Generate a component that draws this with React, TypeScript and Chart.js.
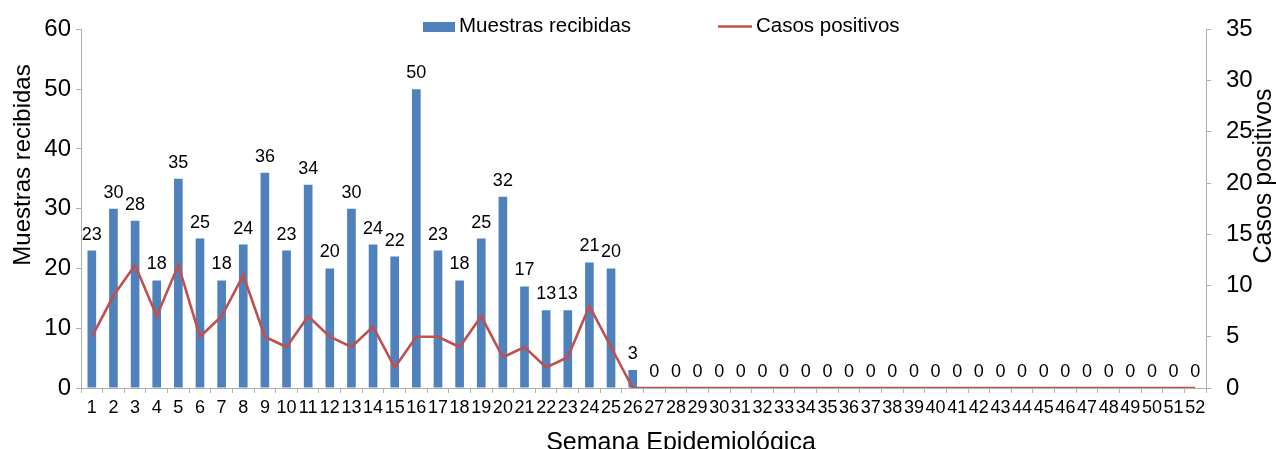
import React, { useEffect, useRef } from "react";
import { Chart, registerables } from "chart.js";

Chart.register(...registerables);

const semanas = [
  "1", "2", "3", "4", "5", "6", "7", "8", "9", "10", "11", "12", "13",
  "14", "15", "16", "17", "18", "19", "20", "21", "22", "23", "24", "25", "26",
  "27", "28", "29", "30", "31", "32", "33", "34", "35", "36", "37", "38", "39",
  "40", "41", "42", "43", "44", "45", "46", "47", "48", "49", "50", "51", "52",
];

const muestrasRecibidas = [
  23, 30, 28, 18, 35, 25, 18, 24, 36, 23, 34, 20, 30,
  24, 22, 50, 23, 18, 25, 32, 17, 13, 13, 21, 20, 3,
  0, 0, 0, 0, 0, 0, 0, 0, 0, 0, 0, 0, 0,
  0, 0, 0, 0, 0, 0, 0, 0, 0, 0, 0, 0, 0,
];

const casosPositivos = [
  5, 9, 12, 7, 12, 5, 7, 11, 5, 4, 7, 5, 4,
  6, 2, 5, 5, 4, 7, 3, 4, 2, 3, 8, 4, 0,
  0, 0, 0, 0, 0, 0, 0, 0, 0, 0, 0, 0, 0,
  0, 0, 0, 0, 0, 0, 0, 0, 0, 0, 0, 0, 0,
];

const leftTitle = "Muestras recibidas";
const rightTitle = "Casos positivos";
const xTitle = "Semana Epidemiológica";

const BLUE = "#4F81BD";
const RED = "#C0504D";
const AXIS = "#b0b0b0";
const FONT = "'Liberation Sans', Arial, sans-serif";

const overlayPlugin = {
  id: "overlay",
  afterDatasetsDraw(chart: any) {
    const ctx = chart.ctx;
    const meta = chart.getDatasetMeta(0);
    ctx.save();
    ctx.fillStyle = "#000";
    ctx.font = `18px ${FONT}`;
    ctx.textAlign = "center";
    ctx.textBaseline = "alphabetic";
    meta.data.forEach((el: any, i: number) => {
      const v = chart.data.datasets[0].data[i];
      ctx.fillText(String(v), el.x, el.y - 11);
    });
    ctx.restore();
  },
  afterDraw(chart: any) {
    const ctx = chart.ctx;
    ctx.save();
    // legend
    ctx.fillStyle = BLUE;
    ctx.fillRect(423, 22, 32, 10);
    ctx.fillStyle = "#000";
    ctx.font = `20.5px ${FONT}`;
    ctx.textAlign = "left";
    ctx.textBaseline = "middle";
    ctx.fillText(chart.data.datasets[0].label, 459, 26);
    ctx.strokeStyle = RED;
    ctx.lineWidth = 2.5;
    ctx.beginPath();
    ctx.moveTo(718, 26.5);
    ctx.lineTo(752, 26.5);
    ctx.stroke();
    ctx.fillText(chart.data.datasets[1].label, 756, 26);

    // axis titles
    ctx.textAlign = "center";
    ctx.textBaseline = "middle";
    ctx.font = `24px ${FONT}`;
    ctx.save();
    ctx.translate(23, 165);
    ctx.rotate(-Math.PI / 2);
    ctx.fillText(leftTitle, 0, 0);
    ctx.restore();

    ctx.font = `25px ${FONT}`;
    ctx.save();
    ctx.translate(1264, 176);
    ctx.rotate(-Math.PI / 2);
    ctx.fillText(rightTitle, 0, 0);
    ctx.restore();

    ctx.fillText(xTitle, 681, 443);
    ctx.restore();
  },
};

export default function App() {
  const ref = useRef<HTMLCanvasElement | null>(null);

  useEffect(() => {
    if (!ref.current) return;
    const chart = new Chart(ref.current, {
      type: "bar",
      data: {
        labels: semanas,
        datasets: [
          {
            type: "bar",
            label: "Muestras recibidas",
            data: muestrasRecibidas,
            backgroundColor: BLUE,
            borderWidth: 0,
            barPercentage: 0.4,
            categoryPercentage: 1,
            yAxisID: "y",
            order: 2,
          },
          {
            type: "line",
            label: "Casos positivos",
            data: casosPositivos,
            borderColor: RED,
            backgroundColor: RED,
            borderWidth: 2.6,
            pointRadius: 0,
            tension: 0,
            yAxisID: "y1",
            order: 1,
          },
        ] as any,
      },
      options: {
        responsive: false,
        animation: false,
        layout: { padding: { top: 23, left: 0, right: 0, bottom: 0 } },
        plugins: {
          legend: { display: false },
          tooltip: { enabled: false },
        },
        scales: {
          x: {
            offset: true,
            grid: {
              offset: true,
              drawOnChartArea: false,
              drawTicks: true,
              tickLength: 5,
              color: AXIS,
            },
            border: { color: AXIS, width: 1 },
            ticks: {
              autoSkip: false,
              maxRotation: 0,
              minRotation: 0,
              padding: 4,
              color: "#000",
              font: { family: FONT, size: 18 },
            },
            afterFit: (s: any) => {
              s.height = 61;
            },
          },
          y: {
            position: "left",
            min: 0,
            max: 60,
            ticks: {
              stepSize: 10,
              padding: 5,
              color: "#000",
              font: { family: FONT, size: 24 },
            },
            grid: {
              drawOnChartArea: false,
              drawTicks: true,
              tickLength: 5,
              color: AXIS,
            },
            border: { color: AXIS, width: 1 },
            afterFit: (s: any) => {
              s.width = 81;
            },
          },
          y1: {
            position: "right",
            min: 0,
            max: 35,
            ticks: {
              stepSize: 5,
              padding: 15,
              color: "#000",
              font: { family: FONT, size: 24 },
            },
            grid: {
              drawOnChartArea: false,
              drawTicks: true,
              tickLength: 5,
              color: AXIS,
            },
            border: { color: AXIS, width: 1 },
            afterFit: (s: any) => {
              s.width = 70;
            },
          },
        },
      } as any,
      plugins: [overlayPlugin],
    });
    return () => chart.destroy();
  }, []);

  return (
    <div style={{ position: "fixed", left: 0, top: 0, width: 1276, height: 449, background: "#fff" }}>
      <canvas ref={ref} width={1276} height={449} style={{ width: 1276, height: 449, display: "block" }} />
    </div>
  );
}
